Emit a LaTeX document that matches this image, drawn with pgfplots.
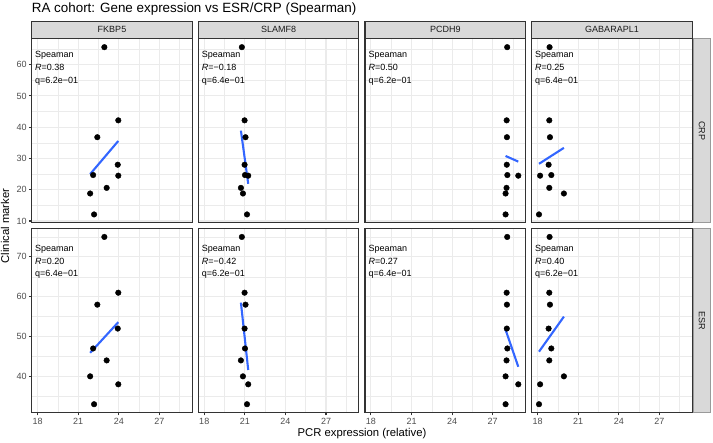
\documentclass[border=0pt]{standalone}
\usepackage{fontspec}
\setmainfont{Liberation Sans}
\usepackage{pgfplots}
\usepackage{pgfplotstable}
\pgfplotsset{compat=1.18}

\definecolor{panelborder}{HTML}{333333}
\definecolor{gridc}{HTML}{EBEBEB}
\definecolor{stripfill}{HTML}{D9D9D9}
\definecolor{stripedge}{HTML}{9A9A9A}
\definecolor{ticklab}{HTML}{4D4D4D}
\definecolor{striptext}{HTML}{1A1A1A}
\definecolor{fitblue}{HTML}{3366FF}

% expression of each gene with the two clinical markers, one row per patient
\pgfplotstableread{
x crp esr
22.93 65.6 75
23.96 42.2 61
22.41 36.8 58
23.92 28.0 52
22.10 24.7 47
23.96 24.5 38
23.10 20.6 44
21.88 18.8 40
22.17 12.1 33
}\fkbp
\pgfplotstableread{
x crp esr
20.78 65.6 75
20.98 42.2 61
21.05 36.8 58
20.98 28.0 52
21.01 24.7 47
21.25 24.5 38
20.71 20.6 44
20.86 18.8 40
21.16 12.1 33
}\slamf
\pgfplotstableread{
x crp esr
28.07 65.6 75
28.03 42.2 61
28.05 36.8 58
28.04 28.0 52
28.08 24.7 47
28.89 24.5 38
28.02 20.6 44
27.95 18.8 40
27.95 12.1 33
}\pcdh
\pgfplotstableread{
x crp esr
18.88 65.6 75
18.86 42.2 61
18.91 36.8 58
18.81 28.0 52
19.01 24.7 47
18.18 24.5 38
18.86 20.6 44
19.94 18.8 40
18.10 12.1 33
}\gabar

\newcommand{\fsz}[1]{\fontsize{#1}{#1}\selectfont}

\pgfplotsset{
  panel/.style={
    scale only axis, width=160.6pt, height=184pt,
    xmin=17.56, xmax=29.43,
    xtick={18,21,24,27}, minor xtick={19.5,22.5,25.5,28.5},
    grid=both,
    major grid style={gridc, line width=1.07pt},
    minor grid style={gridc, line width=0.53pt},
    axis line style={panelborder, line width=1.07pt},
    tick align=outside, major tick length=2.75pt, minor tick length=0pt,
    every tick/.style={panelborder, line width=1.07pt},
    xtick pos=lower, ytick pos=left,
    ticklabel style={font=\fsz{9}, text=ticklab, inner sep=2.2pt},
    /pgf/number format/assume math mode=true,
  },
  crprow/.style={ymin=9.43, ymax=68.28, ytick={10,20,30,40,50,60}, minor ytick={15,25,35,45,55,65}},
  esrrow/.style={ymin=30.9, ymax=77.1, ytick={40,50,60,70}, minor ytick={35,45,55,65,75}},
  pts/.style={only marks, mark=*, mark size=2.8pt, black},
  fit/.style={no marks, fitblue, line width=2.1pt},
}

\begin{document}
\begin{tikzpicture}[x=1pt,y=1pt]
\useasboundingbox (0,0) rectangle (713,443);

% ---- CRP row ----
\begin{axis}[panel, crprow, at={(31.7pt,220.2pt)}, xmajorticks=false]
\addplot[pts] table[x=x,y=crp] {\fkbp};
\addplot[fit] coordinates {(21.88,25.0) (23.96,35.6)};
\end{axis}
\begin{axis}[panel, crprow, at={(198.3pt,220.2pt)}, xmajorticks=false, ymajorticks=false]
\addplot[pts] table[x=x,y=crp] {\slamf};
\addplot[fit] coordinates {(20.71,38.9) (21.25,21.9)};
\end{axis}
\begin{axis}[panel, crprow, at={(365.0pt,220.2pt)}, xmajorticks=false, ymajorticks=false]
\addplot[pts] table[x=x,y=crp] {\pcdh};
\addplot[fit] coordinates {(27.95,30.8) (28.89,29.0)};
\end{axis}
\begin{axis}[panel, crprow, at={(531.7pt,220.2pt)}, xmajorticks=false, ymajorticks=false]
\addplot[pts] table[x=x,y=crp] {\gabar};
\addplot[fit] coordinates {(18.10,28.3) (19.94,33.4)};
\end{axis}

% ---- ESR row ----
\begin{axis}[panel, esrrow, at={(31.7pt,30.4pt)}]
\addplot[pts] table[x=x,y=esr] {\fkbp};
\addplot[fit] coordinates {(21.88,45.9) (23.96,53.6)};
\end{axis}
\begin{axis}[panel, esrrow, at={(198.3pt,30.4pt)}, ymajorticks=false]
\addplot[pts] table[x=x,y=esr] {\slamf};
\addplot[fit] coordinates {(20.71,58.5) (21.25,41.6)};
\end{axis}
\begin{axis}[panel, esrrow, at={(365.0pt,30.4pt)}, ymajorticks=false]
\addplot[pts] table[x=x,y=esr] {\pcdh};
\addplot[fit] coordinates {(27.95,51.7) (28.89,42.4)};
\end{axis}
\begin{axis}[panel, esrrow, at={(531.7pt,30.4pt)}, ymajorticks=false]
\addplot[pts] table[x=x,y=esr] {\gabar};
\addplot[fit] coordinates {(18.10,46.2) (19.94,55.0)};
\end{axis}

% ---- correlation labels ----
\foreach \px/\rc/\qc/\re/\qe in {31.7/0.38/6.2/0.20/6.4, 198.3/−0.18/6.4/−0.42/6.2, 365.0/0.50/6.2/0.27/6.4, 531.7/0.25/6.4/0.40/6.2}{
  \begin{scope}[every node/.style={anchor=base west, inner sep=0pt, font=\fsz{9}, text=black}]
    \node at (\px+3.3, 443-57.3) {Speaman};
    \node at (\px+3.3, 443-70.8) {\textit{R}=\rc};
    \node at (\px+3.3, 443-83.5) {q=\qc e−01};
    \node at (\px+3.3, 443-252.0) {Speaman};
    \node at (\px+3.3, 443-264.5) {\textit{R}=\re};
    \node at (\px+3.3, 443-277.0) {q=\qe e−01};
  \end{scope}
}

% ---- facet strips ----
\foreach \px/\gene in {31.7/FKBP5, 198.3/SLAMF8, 365.0/PCDH9, 531.7/GABARAPL1}{
  \draw[fill=stripfill, draw=panelborder, line width=1.07pt] (\px,404.8) rectangle (\px+160.6,421.8);
  \node[font=\fsz{9}, text=striptext] at (\px+80.3,413.3) {\gene};
}
\foreach \py/\lab in {220.2/CRP, 30.4/ESR}{
  \draw[fill=stripfill, draw=stripedge, line width=0.8pt] (693.3,\py) rectangle (710.5,\py+184);
  \node[font=\fsz{9}, text=striptext, rotate=-90] at (701.9,\py+92) {\lab};
}

% ---- titles ----
\node[anchor=base west, inner sep=0pt, font=\fsz{13.4}, text=black] at (31.7,430) {RA cohort: Gene expression vs ESR/CRP (Spearman)};
\node[anchor=base, inner sep=0pt, font=\fsz{11.3}, text=black] at (362,6.5) {PCR expression (relative)};
\node[anchor=base, inner sep=0pt, font=\fsz{11.3}, text=black, rotate=90] at (9,217) {Clinical marker};
\end{tikzpicture}
\end{document}
